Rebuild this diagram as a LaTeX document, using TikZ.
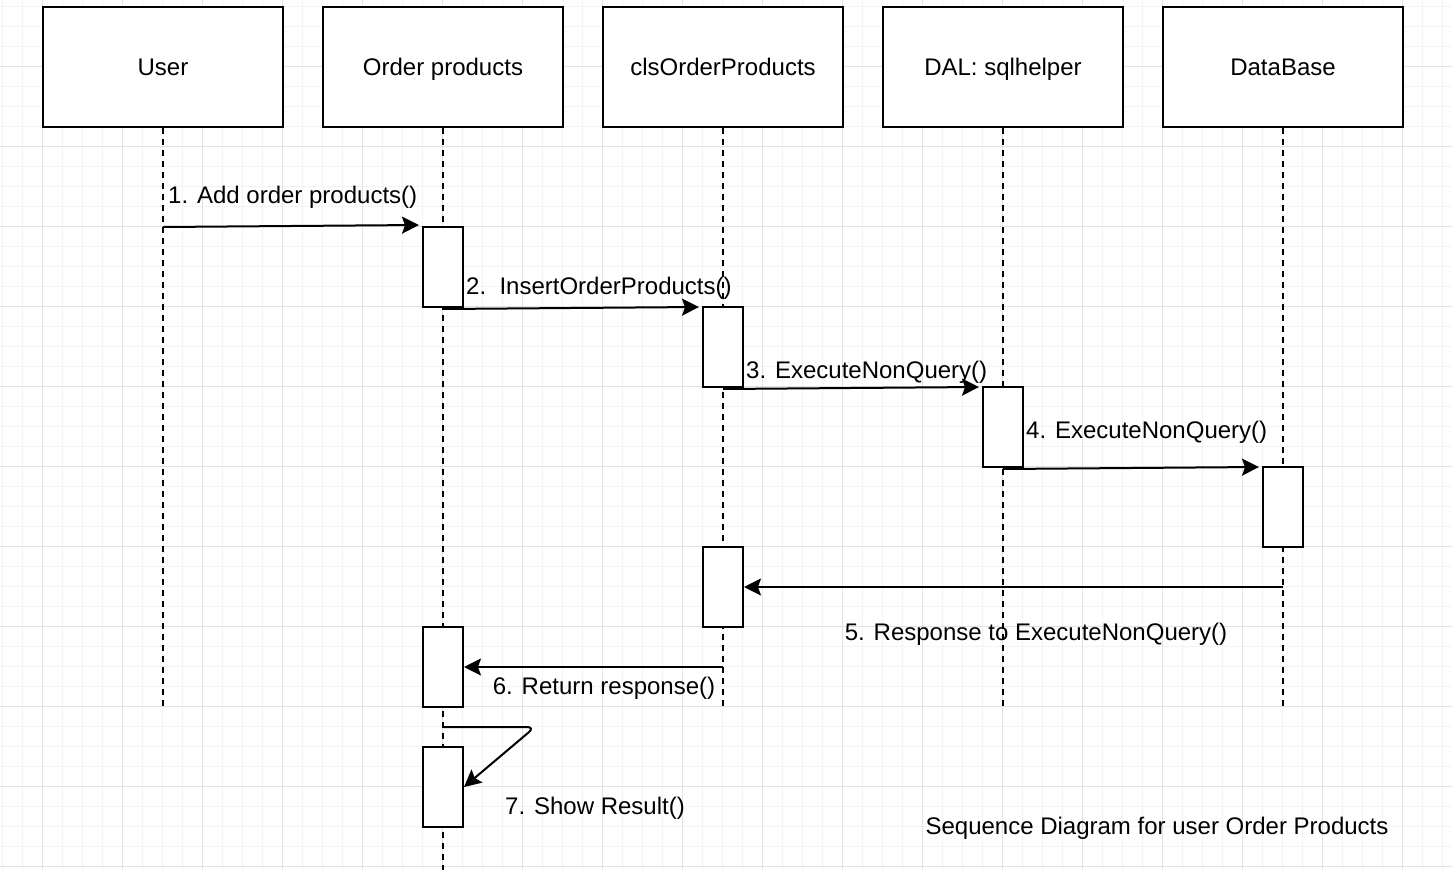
\documentclass[tikz,border=0pt]{standalone}
\usepackage{fontspec}
\setmainfont{Liberation Sans}
\usetikzlibrary{arrows.meta}
\definecolor{gridminor}{HTML}{F3F3F3}
\definecolor{gridmajor}{HTML}{E2E2E2}
\begin{document}
\begin{tikzpicture}[x=1pt,y=-1pt,
  every node/.style={font=\fontsize{24}{28}\selectfont},
  obj/.style={draw, line width=2pt, fill=white, minimum width=240pt, minimum height=120pt, inner sep=0pt, text height=17pt, text depth=0pt},
  act/.style={draw, line width=2pt, fill=white, minimum width=40pt, minimum height=80pt, inner sep=0pt},
  life/.style={line width=1.6pt, dash pattern=on 6pt off 5pt},
  tiphead/.tip={Stealth[length=17pt,width=17pt,inset=3pt]},
  msg/.style={line width=2pt, -tiphead},
  lbl/.style={inner sep=0pt}
]
\useasboundingbox (0,0) rectangle (1452,870);
\fill[white] (0,0) rectangle (1452,870);
% grid
\foreach \x in {2,22,...,1452} \draw[gridminor, line width=1pt] (\x,0) -- (\x,870);
\foreach \y in {6,26,...,866} \draw[gridminor, line width=1pt] (0,\y) -- (1452,\y);
\foreach \x in {42,122,...,1402} \draw[gridmajor, line width=1pt] (\x,0) -- (\x,870);
\foreach \y in {66,146,...,866} \draw[gridmajor, line width=1pt] (0,\y) -- (1452,\y);

% objects
\node[obj] (user) at (163,67) {User};
\node[obj] (order) at (443,67) {Order products};
\node[obj] (cls) at (723,67) {clsOrderProducts};
\node[obj] (dal) at (1003,67) {DAL: sqlhelper};
\node[obj] (db) at (1283,67) {DataBase};

% lifeline ends
\coordinate (userEnd) at (163,707);
\coordinate (orderEnd) at (443,870);
\coordinate (clsEnd) at (723,707);
\coordinate (dalEnd) at (1003,707);
\coordinate (dbEnd) at (1283,707);
\draw[life] (user.south) -- (userEnd);
\draw[life] (order.south) -- (orderEnd);
\draw[life] (cls.south) -- (clsEnd);
\draw[life] (dal.south) -- (dalEnd);
\draw[life] (db.south) -- (dbEnd);

% activations
\node[act] (a1) at (443,267) {};
\node[act] (a2) at (723,347) {};
\node[act] (a3) at (1003,427) {};
\node[act] (a4) at (1283,507) {};
\node[act] (a5) at (723,587) {};
\node[act] (a6) at (443,667) {};
\node[act] (a7) at (443,787) {};

% message end points
\coordinate (m1s) at (163,227);
\coordinate (m1e) at (419,225);
\coordinate (m2s) at (443,309);
\coordinate (m2e) at (699,307);
\coordinate (m3s) at (723,389);
\coordinate (m3e) at (979,387);
\coordinate (m4s) at (1003,469);
\coordinate (m4e) at (1259,467);
\coordinate (m5s) at (1283,587);
\coordinate (m6s) at (723,667);
\coordinate (m7s) at (443,727);
\coordinate (m7c) at (535,727);

\draw[msg] (m1s) -- (m1e);
\draw[msg] (m2s) -- (m2e);
\draw[msg] (m3s) -- (m3e);
\draw[msg] (m4s) -- (m4e);
\draw[msg] (m5s) -- (a5.east);
\draw[msg] (m6s) -- (a6.east);
\draw[msg, rounded corners=8pt] (m7s) -- (m7c) -- (a7.east);

% labels
\node[lbl, anchor=base west] (l1) at (168,203) {1. Add order products()};
\node[lbl, anchor=base west] (l2) at (466,294) {2.\ \ InsertOrderProducts()};
\node[lbl, anchor=base west] (l3) at (746,378) {3. ExecuteNonQuery()};
\node[lbl, anchor=base west] (l4) at (1026,438) {4. ExecuteNonQuery()};
\node[lbl, anchor=base] (l5) at (1036,640) {5. Response to ExecuteNonQuery()};
\node[lbl, anchor=base] (l6) at (604,694) {6. Return response()};
\node[lbl, anchor=base] (l7) at (595,814) {7. Show Result()};
\node[lbl, anchor=base] (cap) at (1157,834) {Sequence Diagram for user Order Products};
\end{tikzpicture}
\end{document}
